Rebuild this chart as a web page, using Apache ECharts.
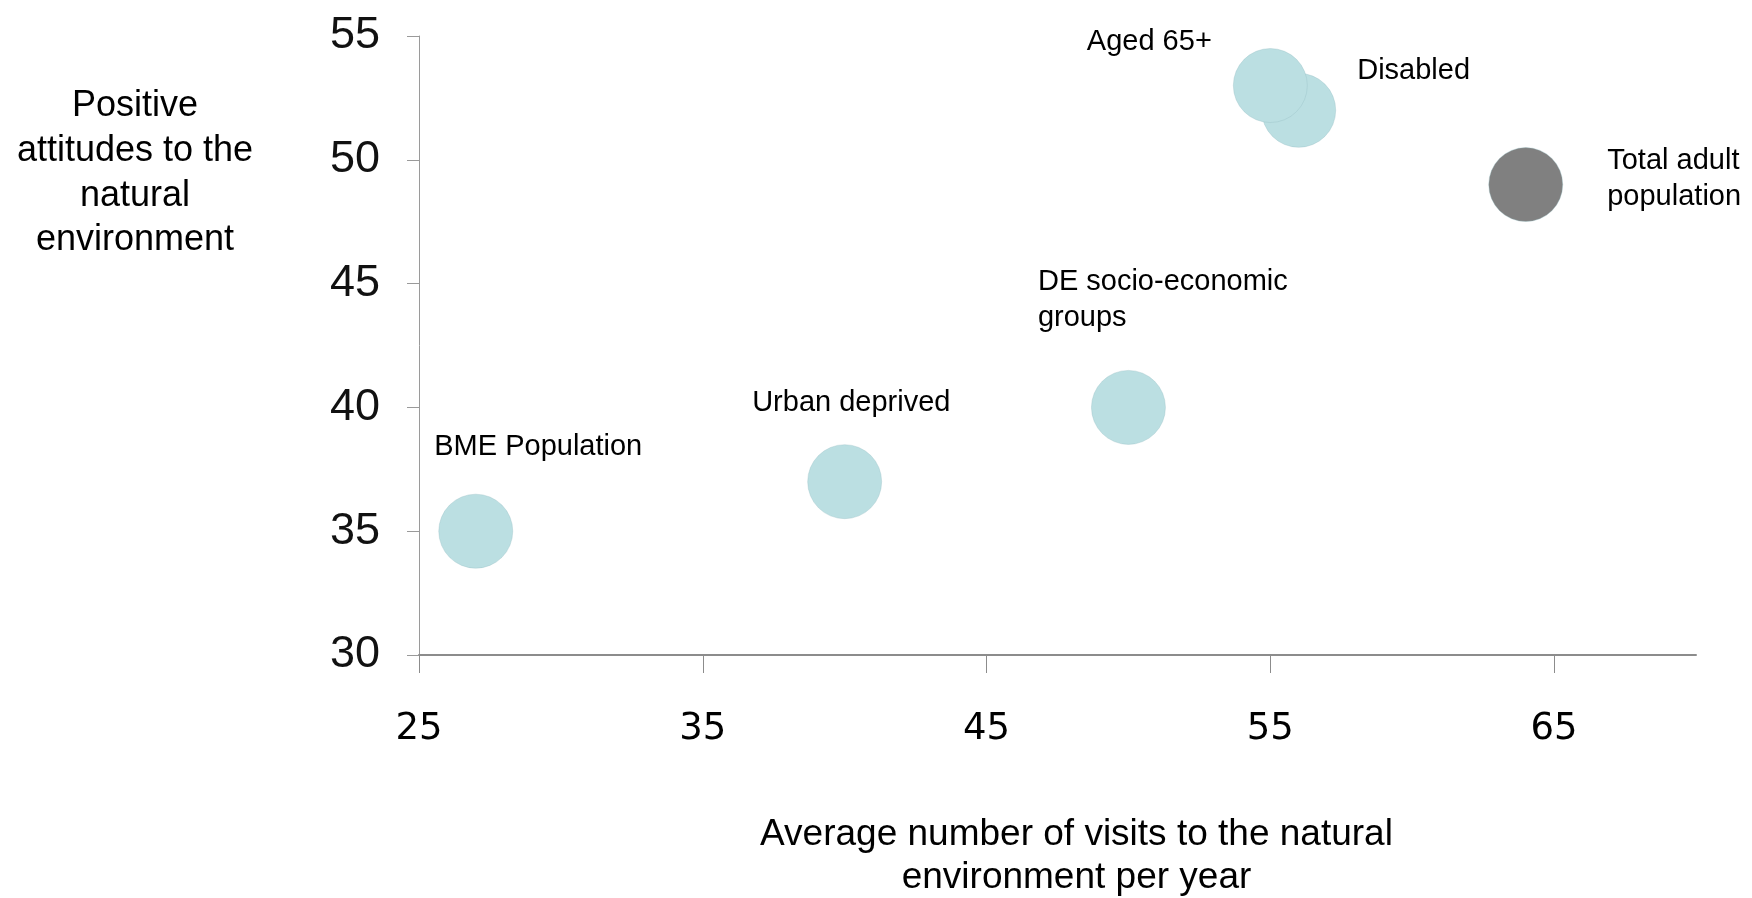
<!DOCTYPE html>
<html>
<head>
<meta charset="utf-8">
<script src="https://cdn.jsdelivr.net/npm/echarts@6/dist/echarts.min.js"></script>
<style>
html,body{margin:0;padding:0;background:#fff;}
#c{width:1752px;height:898px;}
</style>
</head>
<body>
<div id="c"></div>
<script>
// Data
const groups = ["Disabled", "Aged 65+", "Total adult population", "DE socio-economic groups", "Urban deprived", "BME Population"];
const labelTexts = ["Disabled", "Aged 65+", "Total adult\npopulation", "DE socio-economic\ngroups", "Urban deprived", "BME Population"];
const visits = [56, 55, 64, 50, 40, 27];
const attitudes = [52, 53, 49, 40, 37, 35];
const xTicks = [25, 35, 45, 55, 65];
const yTicks = [30, 35, 40, 45, 50, 55];

// Styles (not data)
const teal = '#BBDFE2';
const grey = '#808080';
const colors = [teal, teal, grey, teal, teal, teal];
const R = 37;
const labelOffsets = [[59, -39], [-183, -43], [82, -5], [-90, -107], [-92, -78], [-41, -84]];

const chart = echarts.init(document.getElementById('c'));
const seriesData = groups.map((g, i) => ({
  name: g,
  value: [visits[i], attitudes[i]],
  itemStyle: { color: colors[i] },
  label: {
    show: true,
    formatter: labelTexts[i],
    position: [labelOffsets[i][0] + R, labelOffsets[i][1] + R],
    align: 'left',
    verticalAlign: 'middle'
  }
}));

chart.setOption({
  animation: false,
  grid: { left: 419, right: 56, top: 36, bottom: 243, containLabel: false, outerBoundsMode: 'none' },
  xAxis: {
    type: 'value',
    min: 25, max: 70,
    splitLine: { show: false },
    axisLine: { show: true, lineStyle: { color: '#8c8c8c', width: 2 } },
    axisTick: { show: true, customValues: xTicks, length: 18, lineStyle: { color: '#8c8c8c', width: 1 } },
    axisLabel: { customValues: xTicks, margin: 56, fontFamily: 'DejaVu Sans', fontSize: 37, color: '#000' },
    name: 'Average number of visits to the natural\nenvironment per year',
    nameLocation: 'middle',
    nameGap: 158,
    nameTextStyle: { fontFamily: 'Liberation Sans', fontSize: 37, color: '#000', lineHeight: 43, padding: [0, 0, 0, 38] }
  },
  yAxis: {
    type: 'value',
    min: 30, max: 55, interval: 5,
    splitLine: { show: false },
    axisLine: { show: true, lineStyle: { color: '#9a9a9a', width: 1 } },
    axisTick: { show: true, length: 12, lineStyle: { color: '#9a9a9a' } },
    axisLabel: { margin: 39, fontFamily: 'Liberation Sans', fontSize: 45, color: '#111', padding: [4, 0, 0, 0] }
  },
  graphic: [{
    type: 'text',
    position: [135, 84],
    style: {
      text: 'Positive\nattitudes to the\nnatural\nenvironment',
      x: 0, y: 0,
      fontFamily: 'Liberation Sans', fontSize: 36, lineHeight: 44.7,
      fill: '#000', align: 'center', verticalAlign: 'top'
    }
  }],
  series: [{
    type: 'scatter',
    symbol: 'circle',
    symbolSize: 2 * R,
    data: seriesData,
    itemStyle: { opacity: 1, borderColor: 'rgba(150,190,195,0.35)', borderWidth: 1 },
    label: { fontFamily: 'Liberation Sans', fontSize: 29, color: '#000', lineHeight: 36 },
    emphasis: { disabled: true }
  }]
});
</script>
</body>
</html>
